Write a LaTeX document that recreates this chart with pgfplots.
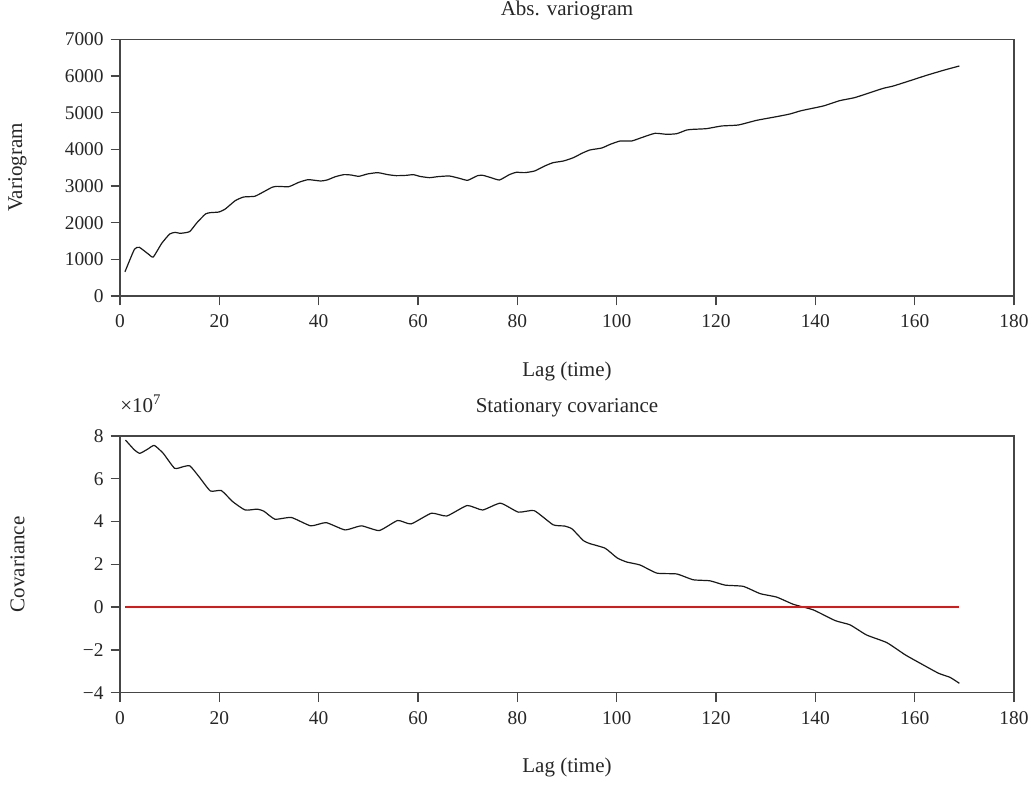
\documentclass[border=0pt]{standalone}
\usepackage{fontspec}
\setmainfont{Liberation Serif}
\usepackage{pgfplots}
\pgfplotsset{compat=1.18}
\definecolor{axgray}{RGB}{70,70,70}
\begin{document}
\begin{tikzpicture}
\path[use as bounding box] (0,0) rectangle (517.5pt,392pt);
\pgfplotsset{
  myaxis/.style={
    scale only axis, width=447pt, height=128.35pt,
    xmin=0, xmax=180, xtick={0,20,...,180},
    tick pos=left, tick align=outside, major tick length=4.65pt,
    axis line style={axgray, line width=0.7pt},
    major tick style={axgray, line width=0.7pt},
    scaled ticks=false, clip mode=individual,
    /pgf/number format/assume math mode=true,
    /pgf/number format/1000 sep={},
    tick label style={font=\fontsize{9.7}{11}\selectfont, text=black!85},
    xticklabel style={yshift=-1.2pt},
    label style={font=\fontsize{10.5}{12}\selectfont, text=black!85},
    title style={font=\fontsize{10.5}{12}\selectfont, text=black!85, at={(axis description cs:0.5,1)}, anchor=base, yshift=5.7pt},
    xlabel style={at={(axis description cs:0.5,0)}, anchor=base, yshift=-40pt},
    ylabel style={at={(axis description cs:-0.1147,0.5)}, anchor=center},
    xlabel={Lag (time)},
  }
}
\begin{axis}[myaxis, at={(60pt,244pt)}, anchor=south west,
  ymin=0, ymax=7000, ytick={0,1000,...,7000},
  title={Abs. variogram}, ylabel={Variogram}]
\addplot[black!90, line width=0.6pt, smooth, tension=0.3] coordinates {
(1,660) (2.9,1273) (3.9,1327) (5.7,1145) (6.7,1064) (8.4,1436) (10,1690) (11.1,1736) (12.1,1709) (14,1755) (15.5,2000) (17.2,2236) (18.2,2273) (19.9,2290) (21.2,2373) (23.2,2600) (24.9,2700) (27.1,2718) (28.6,2818) (30.6,2964) (31.6,2990) (34,2982) (36,3100) (37.9,3173) (40.4,3136) (41.7,3164) (43.4,3255) (45.1,3310) (46.5,3300) (48.1,3264) (49.8,3327) (51.9,3364) (53.9,3310) (55.6,3282) (57.6,3290) (59.1,3310) (60.3,3264) (62.3,3227) (64,3255) (66.3,3273) (68.3,3210) (70,3155) (72,3282) (73.1,3290) (74.7,3227) (76.4,3164) (78.4,3310) (79.8,3373) (81.5,3364) (83.5,3410) (85.5,3545) (87.2,3636) (89.3,3682) (91.3,3773) (93,3891) (94.6,3982) (97,4036) (98.7,4136) (100.7,4227) (103,4227) (105,4318) (107.7,4436) (110.1,4409) (112.1,4427) (114.1,4527) (115.4,4545) (118.1,4564) (121.1,4636) (124.5,4664) (128.2,4791) (132.2,4891) (134.9,4964) (137.2,5055) (141.6,5182) (144.9,5327) (147.9,5409) (151,5545) (153.7,5664) (155.7,5727) (159.1,5873) (162.4,6018) (165.8,6155) (169,6273)
};
\end{axis}
\begin{axis}[myaxis, at={(60pt,45.65pt)}, anchor=south west,
  ymin=-4e7, ymax=8e7, ytick={-4e7,-2e7,0,2e7,4e7,6e7,8e7},
  yticklabels={−4,−2,0,2,4,6,8},
  title={Stationary covariance}, ylabel={Covariance}]
\addplot[black!90, line width=0.6pt, smooth, tension=0.3] coordinates {
(1.1,7.81e7) (2.9,7.35e7) (4,7.19e7) (5.6,7.39e7) (6.9,7.56e7) (8.7,7.19e7) (11,6.49e7) (12.8,6.57e7) (14.1,6.60e7) (15.9,6.10e7) (18.2,5.43e7) (20.4,5.45e7) (22.7,4.93e7) (25.2,4.54e7) (27.6,4.58e7) (29,4.48e7) (31.2,4.11e7) (34.5,4.19e7) (38.4,3.80e7) (41.5,3.95e7) (45.3,3.61e7) (48.6,3.80e7) (52.2,3.58e7) (55.9,4.05e7) (58.6,3.89e7) (62.7,4.39e7) (65.8,4.26e7) (69.9,4.75e7) (73,4.54e7) (76.6,4.86e7) (80.2,4.44e7) (83.4,4.51e7) (87.2,3.85e7) (89.5,3.79e7) (91,3.66e7) (93.3,3.11e7) (94.6,2.97e7) (97.7,2.75e7) (100.1,2.30e7) (102,2.11e7) (104.7,1.97e7) (108.1,1.59e7) (112.1,1.55e7) (115.4,1.28e7) (118.8,1.23e7) (121.8,1.03e7) (125.5,0.97e7) (128.9,0.63e7) (132.2,0.47e7) (135.6,0.13e7) (139.6,-0.13e7) (144,-0.63e7) (147,-0.83e7) (150.3,-1.30e7) (154.4,-1.66e7) (158.1,-2.23e7) (161.4,-2.66e7) (164.8,-3.09e7) (167.1,-3.28e7) (169,-3.56e7)
};
\addplot[color={rgb,255:red,220;green,25;blue,25}, line width=0.7pt] coordinates {(1,0) (169,0)};
\node[anchor=base west, font=\fontsize{10.5}{12}\selectfont, text=black!85, inner sep=0pt] at (axis description cs:0,1) [yshift=11.7pt] {×10\textsuperscript{7}};
\end{axis}
\end{tikzpicture}
\end{document}
